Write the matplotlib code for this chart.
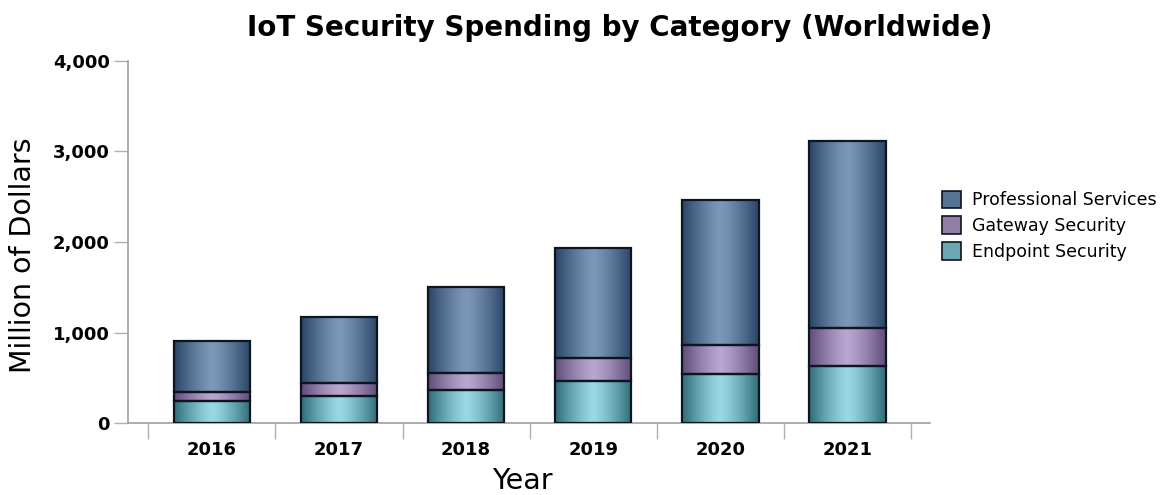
import numpy as np
import matplotlib
matplotlib.use("Agg")
import matplotlib.pyplot as plt
from matplotlib.colors import LinearSegmentedColormap
from matplotlib.patches import Patch
from matplotlib.ticker import FuncFormatter

years = ["2016", "2017", "2018", "2019", "2020", "2021"]
endpoint = [243, 298, 365, 464, 541, 630]
gateway = [100, 144, 187, 254, 321, 420]
professional = [563, 729, 951, 1216, 1602, 2066]

series = [
    ("Endpoint Security", endpoint, ("#2f6c78", "#9ad8e4")),
    ("Gateway Security", gateway, ("#5e4b78", "#b9a6d0")),
    ("Professional Services", professional, ("#2a4466", "#7d97b8")),
]

fig = plt.figure(figsize=(11.73, 4.95), dpi=100)
ax = fig.add_axes([0.109, 0.145, 0.684, 0.732])

x = np.arange(len(years))
width = 0.6
bottom = np.zeros(len(years))
legend_handles = []
grad = np.abs(np.linspace(-1, 1, 256)) ** 1.3
grad = 1 - grad
for name, vals, (c_edge, c_mid) in series:
    cmap = LinearSegmentedColormap.from_list(name, [c_edge, c_mid])
    bars = ax.bar(x, vals, width, bottom=bottom, color="none",
                  edgecolor="#0d1520", linewidth=1.6, zorder=3)
    for b in bars:
        x0, y0 = b.get_x(), b.get_y()
        im = ax.imshow(grad[np.newaxis, :], cmap=cmap, aspect="auto",
                       extent=(x0, x0 + b.get_width(), y0, y0 + b.get_height()),
                       zorder=2, vmin=0, vmax=1, interpolation="bilinear")
        im.set_clip_path(b)
    bottom += np.array(vals)
    legend_handles.append(Patch(facecolor=cmap(0.55), edgecolor="#0d1520",
                                linewidth=1.2, label=name))

ax.set_xlim(-0.66, 5.65)
ax.set_ylim(0, 4000)
ax.set_yticks([0, 1000, 2000, 3000, 4000])
ax.yaxis.set_major_formatter(FuncFormatter(lambda v, p: f"{int(v):,}"))
ax.set_xticks(x)
ax.set_xticklabels(years)
ax.set_xticks(np.arange(-0.5, 6, 1), minor=True)
ax.tick_params(axis="x", which="major", length=0, pad=13)
ax.tick_params(axis="x", which="minor", length=11.5, color="#b0b0b0", width=1)
ax.tick_params(axis="y", length=10, color="#b0b0b0", width=1, pad=3)
for lab in ax.get_xticklabels() + ax.get_yticklabels():
    lab.set_fontweight("bold")
    lab.set_fontsize(13)
for s in ["top", "right"]:
    ax.spines[s].set_visible(False)
for s in ["left", "bottom"]:
    ax.spines[s].set_color("#a0a0a0")
    ax.spines[s].set_linewidth(1.2)

fig.text(0.0195, 0.485, "Million of Dollars", fontsize=20.5, rotation=90,
         ha="center", va="center")
fig.text(0.445, 0.012, "Year", fontsize=20.5, ha="center", va="baseline")
fig.text(0.528, 0.943, "IoT Security Spending by Category (Worldwide)",
         fontsize=20, fontweight="bold", ha="center", va="center")

leg = ax.legend(handles=legend_handles[::-1], loc="center left",
                bbox_to_anchor=(1.0, 0.545), frameon=False, fontsize=12.5,
                handlelength=1.1, handleheight=1.2, handletextpad=0.6,
                labelspacing=0.4, borderaxespad=0.3)

fig.savefig("out.png", dpi=100)
